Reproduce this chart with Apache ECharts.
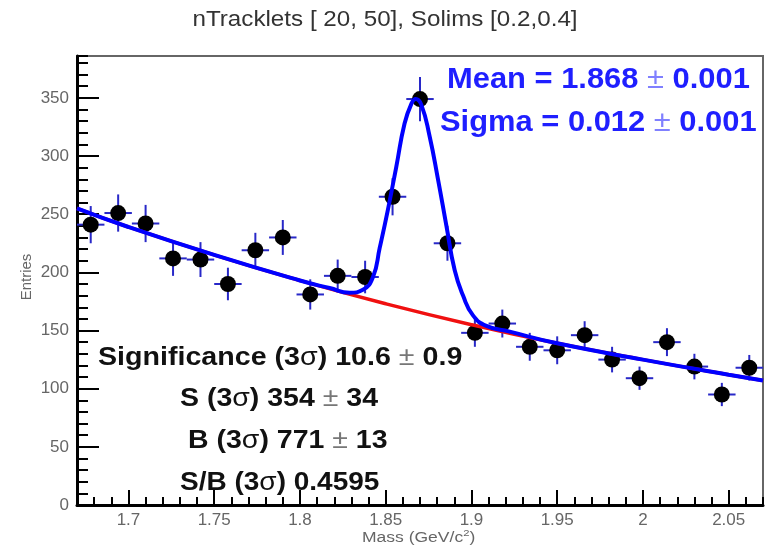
<!DOCTYPE html>
<html>
<head>
<meta charset="utf-8">
<title>nTracklets [ 20, 50], Solims [0.2,0.4]</title>
<script src="https://cdn.jsdelivr.net/npm/echarts@6/dist/echarts.min.js"></script>
<style>
  html, body { margin: 0; padding: 0; background: #fff; }
  #chart { width: 769px; height: 548px; }
</style>
</head>
<body>
<div id="chart"></div>
<script>
// bin centres (GeV/c^2), 25 bins of 0.016 from 1.67 to 2.07
const massBins = [1.678, 1.694, 1.710, 1.726, 1.742, 1.758, 1.774, 1.790, 1.806, 1.822,
  1.838, 1.854, 1.870, 1.886, 1.902, 1.918, 1.934, 1.950, 1.966, 1.982,
  1.998, 2.014, 2.030, 2.046, 2.062]
const entries = [241, 251, 242, 212, 211, 190, 219, 230, 181, 197,
  196, 265, 349, 225, 148, 156, 136, 133, 146, 125,
  109, 140, 119, 95, 118]
const entryErrors = [16, 16, 16, 15, 15, 14, 15, 15, 13, 14,
  14, 16, 19, 15, 12, 12, 12, 12, 12, 11,
  10, 12, 11, 10, 11]
const binHalfWidth = 0.008

// background fit (red)
const bkgCurve = [[1.67, 255], [1.70, 239], [1.75, 215], [1.80, 193], [1.85, 173],
  [1.90, 155], [1.95, 139], [2.00, 125], [2.05, 112], [2.07, 107]]
// total fit (blue)
const totalCurve = [[1.67, 255], [1.70, 239], [1.75, 215], [1.80, 193], [1.8173, 186.5],
  [1.829, 182.5], [1.8367, 185], [1.8426, 196], [1.8465, 221], [1.8513, 254],
  [1.8562, 291], [1.861, 328], [1.865, 345], [1.8675, 349], [1.8708, 344],
  [1.8756, 317], [1.8805, 280], [1.8854, 240], [1.8902, 202], [1.8951, 180],
  [1.9009, 163], [1.9087, 154], [1.9223, 149], [1.95, 139], [2.00, 125],
  [2.05, 112], [2.07, 107]]

const xMajorTicks = [1.7, 1.75, 1.8, 1.85, 1.9, 1.95, 2.0, 2.05]
const yMajorTicks = [0, 50, 100, 150, 200, 250, 300, 350]

const font = 'Liberation Sans, Arial, Helvetica, sans-serif'

let chart = echarts.init(document.getElementById('chart'))

let points = massBins.map((m, i) => [m, entries[i], entryErrors[i]])

// bold text with the sigma / plus-minus signs in a lighter style, like the ROOT latex
function statText(t, x, y, size, color, pmColor, sx) {
  return {
    type: 'text', x: x, y: y, z: 100, scaleX: sx, originX: 0,
    style: {
      text: t, verticalAlign: 'middle',
      rich: {
        b: { fontFamily: font, fontSize: size, fontWeight: 'bold', fill: color },
        s: { fontFamily: font, fontSize: size, fontWeight: 'normal', fill: color },
        p: { fontFamily: font, fontSize: size, fontWeight: 'normal', fill: pmColor }
      }
    }
  }
}

let option = {
  animation: false,
  backgroundColor: '#fff',
  grid: {
    left: 77, right: 6, top: 56, bottom: 43,
    show: true, borderColor: '#666', borderWidth: 2, backgroundColor: 'transparent'
  },
  xAxis: [
    {
      type: 'value', min: 1.67, max: 2.07,
      axisLine: { show: true, onZero: false, lineStyle: { color: '#000', width: 3 } },
      axisTick: { show: true, inside: true, length: 15, customValues: xMajorTicks, lineStyle: { color: '#000', width: 2 } },
      axisLabel: { customValues: xMajorTicks, color: '#666', fontFamily: font, fontSize: 17, margin: 7,
        formatter: v => String(+v.toFixed(2)) },
      splitLine: { show: false }
    },
    {
      type: 'value', min: 1.67, max: 2.07, interval: 0.01, position: 'bottom',
      axisLine: { show: false },
      axisTick: { show: true, inside: true, length: 8, lineStyle: { color: '#000', width: 2 } },
      axisLabel: { show: false },
      splitLine: { show: false }
    }
  ],
  yAxis: [
    {
      type: 'value', min: 0, max: 386,
      axisLine: { show: true, onZero: false, lineStyle: { color: '#000', width: 3 } },
      axisTick: { show: true, inside: true, length: 22, customValues: yMajorTicks, lineStyle: { color: '#000', width: 2 } },
      axisLabel: { customValues: yMajorTicks, color: '#666', fontFamily: font, fontSize: 17, margin: 8 },
      splitLine: { show: false }
    },
    {
      type: 'value', min: 0, max: 386, interval: 10, position: 'left',
      axisLine: { show: false },
      axisTick: { show: true, inside: true, length: 11, lineStyle: { color: '#000', width: 2 } },
      axisLabel: { show: false },
      splitLine: { show: false }
    }
  ],
  graphic: [
    {
      type: 'text', x: 385, y: 20, scaleX: 1.1,
      style: { text: 'nTracklets [ 20, 50], Solims [0.2,0.4]', font: '22px ' + font, fill: '#333',
        align: 'center', verticalAlign: 'middle' }
    },
    {
      type: 'text', x: 27, y: 277, rotation: Math.PI / 2,
      style: { text: 'Entries', font: '15px ' + font, fill: '#666', align: 'center', verticalAlign: 'middle' }
    },
    {
      type: 'text', x: 362, y: 538, scaleX: 1.25,
      style: {
        text: '{t|Mass (GeV/c}{s|2}{t|)}', verticalAlign: 'middle',
        rich: {
          t: { fontFamily: font, fontSize: 14, fill: '#666' },
          s: { fontFamily: font, fontSize: 9, fill: '#666', padding: [0, 0, 8, 0] }
        }
      }
    },
    statText('{b|Mean = 1.868 }{p|±}{b| 0.001}', 447, 80, 29, '#1f1fff', '#8080ff', 1.065),
    statText('{b|Sigma = 0.012 }{p|±}{b| 0.001}', 440, 123, 29, '#1f1fff', '#8080ff', 1.065),
    statText('{b|Significance (3}{s|σ}{b|) 10.6 }{p|±}{b| 0.9}', 98, 358, 25, '#111', '#777', 1.145),
    statText('{b|S (3}{s|σ}{b|) 354 }{p|±}{b| 34}', 180, 399, 25, '#111', '#777', 1.14),
    statText('{b|B (3}{s|σ}{b|) 771 }{p|±}{b| 13}', 188, 441, 25, '#111', '#777', 1.14),
    statText('{b|S/B (3}{s|σ}{b|) 0.4595}', 180, 483, 25, '#111', '#777', 1.12)
  ],
  series: [
    {
      // error bars
      type: 'custom',
      z: 1,
      data: points,
      renderItem(params, api) {
        let x = api.value(0), y = api.value(1), e = api.value(2)
        let top = api.coord([x, y + e])
        let bot = api.coord([x, y - e])
        let lft = api.coord([x - binHalfWidth, y])
        let rgt = api.coord([x + binHalfWidth, y])
        let style = { stroke: '#2828c8', lineWidth: 2 }
        return {
          type: 'group',
          children: [
            { type: 'line', shape: { x1: top[0], y1: top[1], x2: bot[0], y2: bot[1] }, style: style },
            { type: 'line', shape: { x1: lft[0], y1: lft[1], x2: rgt[0], y2: rgt[1] }, style: style }
          ]
        }
      }
    },
    {
      type: 'scatter',
      z: 2,
      data: points,
      symbol: 'circle',
      symbolSize: 16,
      itemStyle: { color: '#000', opacity: 1 }
    },
    {
      type: 'line',
      z: 3,
      data: bkgCurve,
      smooth: true,
      showSymbol: false,
      lineStyle: { color: '#f01010', width: 3.5 }
    },
    {
      type: 'line',
      z: 4,
      data: totalCurve,
      smooth: true,
      showSymbol: false,
      lineStyle: { color: '#0000ff', width: 4 }
    }
  ]
}

chart.setOption(option)
</script>
</body>
</html>
